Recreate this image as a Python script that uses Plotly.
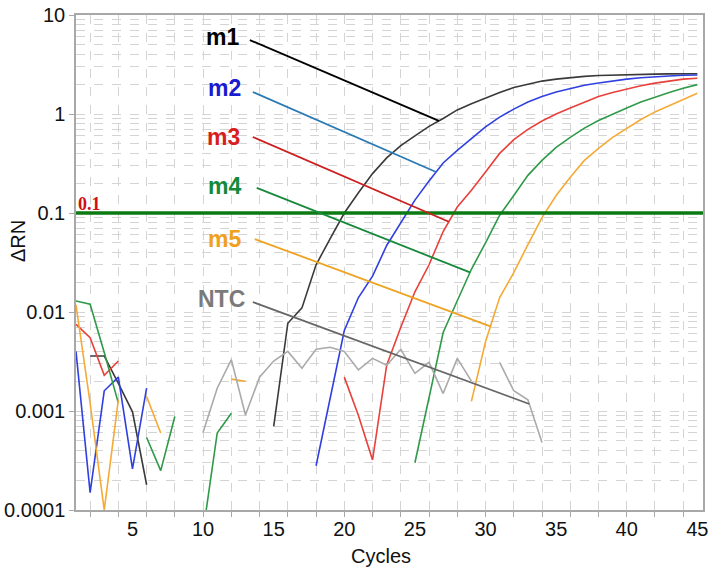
import numpy as np
import plotly.graph_objects as go

cycles = list(range(1, 46))
N = None

m1 = [N, 0.0036, 0.0036, 0.0019, 0.00098, 0.00018, N, N, N, N, N, N, N, N,
      0.0007, 0.0077, 0.011, 0.03, 0.055, 0.1, 0.16, 0.25, 0.36, 0.48, 0.6, 0.75, 0.9,
      1.1, 1.27, 1.45, 1.65, 1.85, 2.0, 2.15, 2.25, 2.33, 2.4, 2.45, 2.48, 2.5,
      2.52, 2.53, 2.54, 2.55, 2.55]
m2 = [0.004, 0.00015, 0.0016, 0.0022, 0.00026, 0.0017, N, N, N, N, N, N, N, N, N, N, N,
      0.00028, 0.0014, 0.0065, 0.014, 0.023, 0.047, 0.08, 0.135, 0.21, 0.32, 0.43, 0.57,
      0.74, 0.93, 1.12, 1.32, 1.5, 1.67, 1.82, 1.95, 2.06, 2.16, 2.25, 2.32, 2.38,
      2.42, 2.46, 2.48]
m3 = [0.0075, 0.0055, 0.0023, 0.0032, N, N, N, N, N, N, N, N, N, N, N, N, N, N, N,
      0.0022, 0.0009, 0.00032, 0.0029, 0.007, 0.016, 0.03, 0.065, 0.115, 0.17, 0.26,
      0.4, 0.55, 0.7, 0.85, 1.0, 1.15, 1.32, 1.5, 1.65, 1.8, 1.93, 2.05, 2.15, 2.25, 2.3]
m4 = [0.0129, 0.012, 0.0039, 0.0012, N, 0.00054, 0.00025, 0.00088, N, 0.00006, 0.0006,
      0.00095, N, N, N, N, N, N, N, N, N, N, N, N,
      0.0003, 0.0014, 0.0062, 0.013, 0.027, 0.05, 0.095, 0.15, 0.24, 0.34, 0.46, 0.58,
      0.72, 0.86, 1.0, 1.15, 1.32, 1.48, 1.65, 1.82, 1.98]
m5 = [0.0118, 0.0012, 0.0001, 0.0013, N, 0.0014, 0.0006, N, N, N, N, 0.0021, 0.002,
      N, N, N, N, N, N, N, N, N, N, N, N, N, N, N,
      0.00125, 0.005, 0.014, 0.025, 0.048, 0.09, 0.15, 0.23, 0.34, 0.45, 0.58, 0.72,
      0.88, 1.05, 1.22, 1.42, 1.62]
ntc = [N, N, N, N, N, N, N, N, N,
       0.00061, 0.0017, 0.0033, 0.00091, 0.0022, 0.0032, 0.004, 0.0027, 0.0042, 0.0044,
       0.004, 0.0026, 0.0034, 0.0029, 0.0042, 0.0024, 0.0031, 0.0015, 0.0034, 0.002,
       N, 0.0031, 0.0016, 0.0013, 0.00048, N, N, N, N, N, N, N, N, N, N, N]

threshold = 0.1
names = ["m1", "m2", "m3", "m4", "m5", "NTC"]
series = [m1, m2, m3, m4, m5, ntc]
curve_colors = ["#3a3a3a", "#3040e0", "#e8403a", "#2f9a48", "#f5aa35", "#aaaaaa"]
label_colors = ["#000000", "#1a1ad0", "#d81e1e", "#138a3a", "#f0a020", "#7a7a7a"]
leader_colors = ["#000000", "#2a7ab4", "#cc1f1f", "#17893a", "#eda323", "#666666"]

# annotation layout (cycle, log10 value)
label_x = [11.34, 11.55, 11.48, 11.55, 11.55, 11.27]
label_logy = [0.778, 0.263, -0.232, -0.727, -1.263, -1.869]
leader_x0 = [13.31, 13.52, 13.52, 13.8, 13.66, 13.52]
leader_logy0 = [0.747, 0.222, -0.232, -0.747, -1.263, -1.899]
leader_x1 = [26.7, 26.5, 27.4, 28.9, 30.35, 33.1]

X_RANGE = [1, 45.4]
L, R, T, B = 76, 6, 15, 61
W, H = 709, 571
PW, PH = W - L - R, H - T - B


def value_at(s, c):
    i = int(np.floor(c)) - 1
    f = c - np.floor(c)
    a, b = s[i], s[i + 1]
    return 10 ** (np.log10(a) * (1 - f) + np.log10(b) * f)


FONT = "Liberation Sans, Arial, sans-serif"

fig = go.Figure()
for s, col, nm in zip(series, curve_colors, names):
    fig.add_trace(go.Scatter(x=cycles, y=s, mode="lines", name=nm,
                             line=dict(color=col, width=1.6), connectgaps=False,
                             showlegend=False, hoverinfo="skip"))

fig.add_trace(go.Scatter(x=X_RANGE, y=[threshold, threshold], mode="lines",
                         line=dict(color="#0b7a12", width=3.5), showlegend=False,
                         hoverinfo="skip"))

for i, nm in enumerate(names):
    y1 = value_at(series[i], leader_x1[i])
    fig.add_trace(go.Scatter(x=[leader_x0[i], leader_x1[i]],
                             y=[10 ** leader_logy0[i], y1], mode="lines",
                             line=dict(color=leader_colors[i], width=1.8),
                             showlegend=False, hoverinfo="skip"))
    fig.add_annotation(x=label_x[i], y=label_logy[i], xref="x", yref="y",
                       text="<b>%s</b>" % nm, showarrow=False,
                       font=dict(family=FONT, size=23, color=label_colors[i]),
                       xanchor="center", yanchor="middle")

fig.add_annotation(x=X_RANGE[0], y=np.log10(threshold), xref="x", yref="y", text="<b>0.1</b>",
                   showarrow=False, xanchor="left", yanchor="bottom", xshift=0, yshift=-3,
                   font=dict(family="Liberation Serif, DejaVu Serif, serif", size=18,
                             color="#d01010"))

fig.add_annotation(x=(18 - L) / PW, y=(H - B - 241) / PH, xref="paper", yref="paper",
                   text="ΔRN", textangle=-90, showarrow=False,
                   xanchor="center", yanchor="middle",
                   font=dict(family=FONT, size=20, color="#111111"))
fig.add_annotation(x=(381 - L) / PW, y=(H - B - 556) / PH, xref="paper", yref="paper",
                   text="Cycles", showarrow=False, xanchor="center", yanchor="middle",
                   font=dict(family=FONT, size=20, color="#111111"))

x_tickvals = [5, 10, 15, 20, 25, 30, 35, 40, 45]
y_tickvals = [0.0001, 0.001, 0.01, 0.1, 1, 10]
y_ticktext = ["0.0001", "0.001", "0.01", "0.1", "1", "10"]

grid = "#d4d4d4"
fig.update_xaxes(range=X_RANGE, tickmode="array", tickvals=x_tickvals,
                 ticks="", showgrid=False, zeroline=False, automargin=False,
                 ticklabeloverflow="allow",
                 showline=True, linecolor="#a8a8a8", linewidth=1.5, mirror=True,
                 tickfont=dict(family=FONT, size=20, color="#111111"),
                 minor=dict(tick0=0, dtick=2, ticks="outside", ticklen=5,
                            tickcolor="#a8a8a8", showgrid=True, gridcolor=grid,
                            griddash="dash", gridwidth=1))
fig.update_yaxes(type="log", range=[-4, 1], tickmode="array", tickvals=y_tickvals,
                 ticktext=y_ticktext, ticks="outside", ticklen=5, tickcolor="#a8a8a8",
                 showgrid=True, gridcolor=grid, griddash="dash", zeroline=False,
                 automargin=False,
                 showline=True, linecolor="#a8a8a8", linewidth=1.5, mirror=True,
                 tickfont=dict(family=FONT, size=20, color="#111111"),
                 minor=dict(dtick="D1", showgrid=True, gridcolor=grid, griddash="dash",
                            gridwidth=1))

fig.update_layout(width=W, height=H, margin=dict(l=L, r=R, t=T, b=B),
                  plot_bgcolor="white", paper_bgcolor="white")

fig.write_html("out.html")
